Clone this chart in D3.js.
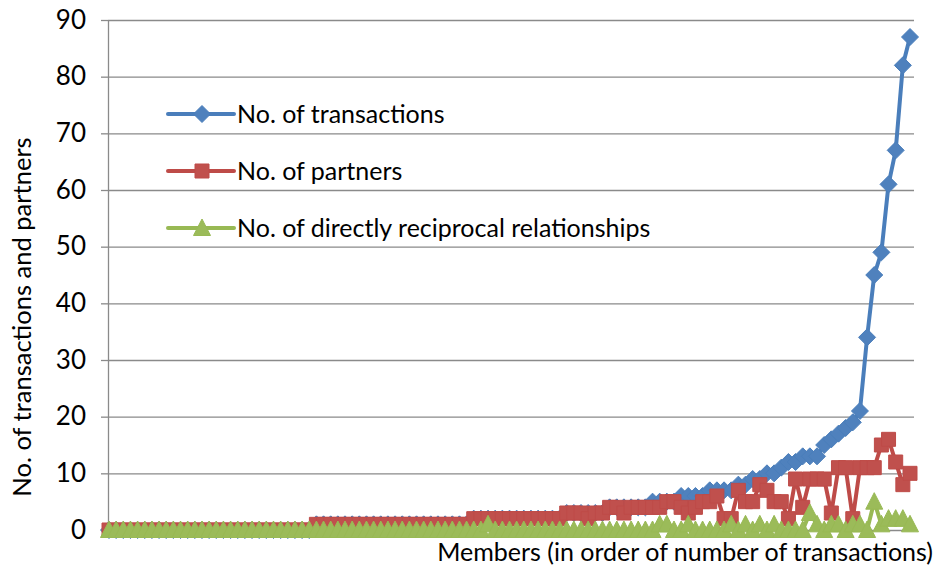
<!DOCTYPE html>
<html>
<head>
<meta charset="utf-8">
<script src="https://cdn.jsdelivr.net/npm/d3@7"></script>
<style>
  body { margin: 0; background: #fff; }
  text { font-family: Lato, "Open Sans", sans-serif; fill: #000; }
</style>
</head>
<body>
<div id="chart"></div>
<script>
// values, one per member, in order of number of transactions
const transactions = [
  0,0,0,0,0,0,0,0,0,0, 0,0,0,0,0,0,0,0,0,0, 0,0,0,0,0,0,0,0,0,
  1,1,1,1,1,1,1,1,1,1, 1,1,1,1,1,1,1,1,1,1, 1,1,
  2,2,2,2,2,2,2,2,2,2, 2,2,2,
  3,3,3,3,3,3,
  4,4,4,4,4,4,
  5,5,5,5,
  6,6,6,6,
  7,7,7,7,
  8,8, 9,9, 10,10, 11, 12,12, 13,13,13,
  15,16,17,18,19,21,34,45,49,61,67,82,87
];
const partners = [
  0,0,0,0,0,0,0,0,0,0, 0,0,0,0,0,0,0,0,0,0, 0,0,0,0,0,0,0,0,0,
  1,1,1,1,1,1,1,1,1,1, 1,1,1,1,1,1,1,1,1,1, 1,1,
  2,2,2,2,2,2,2,2,2,2, 2,2,2,
  3,3,3,2,3,3,
  4,4,3,4,4,4,4,4,5,5,
  4,3,4,5,5,6,2,2,7,5,
  5,8,7,5,5,2,9,4,9,9,
  9,3,11,11,2,11,11,11,15,16,
  12,8,10
];
const reciprocal = [
  0,0,0,0,0,0,0,0,0,0, 0,0,0,0,0,0,0,0,0,0, 0,0,0,0,0,0,0,0,0,0,
  0,0,0,0,0,0,0,0,0,0, 0,0,0,0,0,0,0,0,0,0, 0,0,0,
  1,
  0,0,0,0,0,0,0,0,0,0, 0,0,0,0,0,0,0,0,0,0, 0,0,0,
  1,1,0,0,1,0,0,0,0,0,1,0,1,0,1,0,1,0,0,0,0,
  3,1,0,1,1,0,1,1,0,5,1,2,2,2,1
];
const yTicks = [0, 10, 20, 30, 40, 50, 60, 70, 80, 90];
const seriesNames = ["No. of transactions", "No. of partners", "No. of directly reciprocal relationships"];
const lineColors = ["#4A7EBB", "#BE4B48", "#98B954"];
const markerColors = ["#4F81BD", "#C0504D", "#9BBB59"];
const yTitle = "No. of transactions and partners";
const xTitle = "Members (in order of number of transactions)";

const width = 937, height = 570;
const margin = {top: 20, right: 27, bottom: 40, left: 109};

const svg = d3.select("#chart")
    .append("svg")
    .attr("width", width)
    .attr("height", height);

const members = d3.range(transactions.length);

const x = d3.scalePoint()
    .domain(members)
    .range([margin.left, width - margin.right]);

const y = d3.scaleLinear()
    .domain([0, 90])
    .range([height - margin.bottom, margin.top]);

// gridlines
svg.append("g")
    .attr("transform", `translate(108,0)`)
    .call(d3.axisLeft(y).tickValues(yTicks).tickSize(-806).tickFormat(""))
    .call(g => g.select(".domain").remove())
    .selectAll("line")
    .attr("stroke", "#8a8a8a")
    .attr("stroke-width", 1.3);

// y axis
const yAxis = svg.append("g")
    .attr("transform", `translate(108,0)`)
    .call(d3.axisLeft(y).tickValues(yTicks).tickSize(7).tickSizeOuter(0).tickPadding(15));
yAxis.select(".domain").attr("stroke", "#8a8a8a").attr("stroke-width", 1.3);
yAxis.selectAll(".tick line").attr("stroke", "#8a8a8a").attr("stroke-width", 1.3);
yAxis.selectAll("text")
    .style("font-family", "Lato, sans-serif")
    .style("font-size", "26px")
    .attr("fill", "#000");

// axis titles
svg.append("text")
    .attr("transform", `translate(31, 317) rotate(-90)`)
    .style("text-anchor", "middle")
    .style("font-size", "25.5px")
    .text(yTitle);

svg.append("text")
    .attr("x", 933)
    .attr("y", 561)
    .style("text-anchor", "end")
    .style("font-size", "25px")
    .text(xTitle);

// marker shapes
const markerPaths = [
    "M0,-8.5L8.5,0L0,8.5L-8.5,0Z",
    "M-7,-7h14v14h-14Z",
    "M0,-9L8.5,7.5L-8.5,7.5Z"
];

const seriesData = [transactions, partners, reciprocal];

const line = d3.line()
    .x((d, i) => x(i))
    .y(d => y(d));

seriesData.forEach(function (values, k) {
    svg.append("path")
        .datum(values)
        .attr("fill", "none")
        .attr("stroke", lineColors[k])
        .attr("stroke-width", 4)
        .attr("stroke-linejoin", "round")
        .attr("d", line);

    svg.append("g")
        .selectAll("path")
        .data(values)
        .enter()
        .append("path")
        .attr("d", markerPaths[k])
        .attr("transform", (d, i) => `translate(${x(i)},${y(d)})`)
        .attr("fill", markerColors[k])
        .attr("stroke", lineColors[k])
        .attr("stroke-width", 1);
});

// legend
const legend = svg.append("g")
    .attr("transform", "translate(168,114)");

seriesNames.forEach(function (name, k) {
    const row = legend.append("g")
        .attr("transform", `translate(0,${k * 57})`);
    row.append("line")
        .attr("x1", 0).attr("x2", 66)
        .attr("y1", 0).attr("y2", 0)
        .attr("stroke", lineColors[k])
        .attr("stroke-width", 4)
        .attr("stroke-linecap", "round");
    row.append("path")
        .attr("d", markerPaths[k])
        .attr("transform", "translate(34,0)")
        .attr("fill", markerColors[k])
        .attr("stroke", lineColors[k]);
    row.append("text")
        .attr("x", 69)
        .attr("y", 0)
        .attr("dy", "0.35em")
        .style("font-size", "25px")
        .text(name);
});
</script>
</body>
</html>
